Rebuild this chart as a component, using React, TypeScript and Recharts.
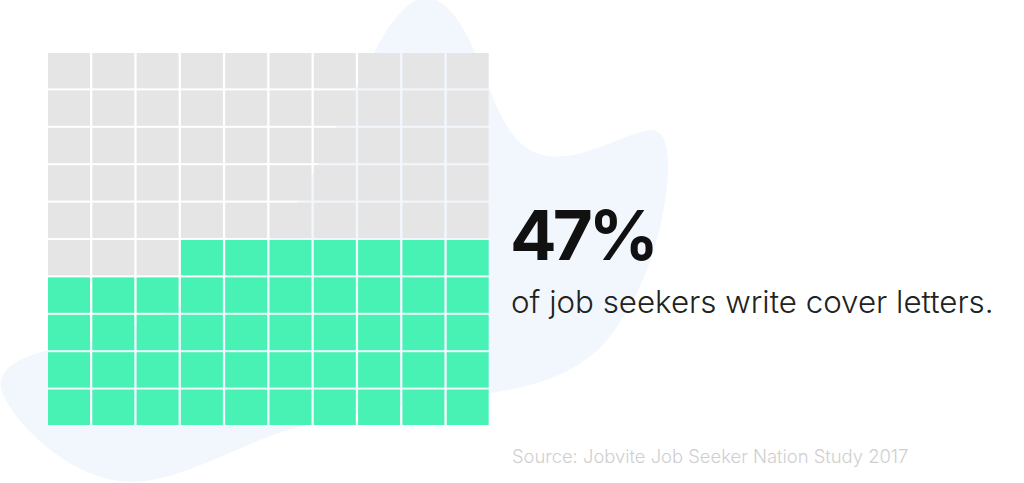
import React from 'react';
import { BarChart, Bar, XAxis, YAxis } from 'recharts';

// ---- data ----
const percentValue = 47;
const headline = '47%';
const caption = 'of job seekers write cover letters.';
const source = 'Source: Jobvite Job Seeker Nation Study 2017';
const columnLabels = ['1', '2', '3', '4', '5', '6', '7', '8', '9', '10'];
const rowKeys = ['r0', 'r1', 'r2', 'r3', 'r4', 'r5', 'r6', 'r7', 'r8', 'r9'];

const GREEN = '#48F1B4';
const GREY = '#E5E5E5';
const BLOB = '#F2F7FE';

// each column is a stack of ten unit cells
const tableData = columnLabels.map((c) => {
  const row: Record<string, any> = { col: c };
  rowKeys.forEach((k) => (row[k] = 1));
  return row;
});

// cells fill from the bottom row up, right to left within a row
const isFilled = (rowIdx: number, colIdx: number) =>
  rowIdx * columnLabels.length + (columnLabels.length - 1 - colIdx) < percentValue;

const makeShape = (rowIdx: number) => (p: any) => (
  <rect
    x={p.x}
    y={p.y + 1}
    width={p.width}
    height={Math.max(0, p.height - 2)}
    fill={isFilled(rowIdx, p.index) ? GREEN : GREY}
  />
);

const blobPath =
  'M 426 -2 C 452 -2, 472 40, 488 85 C 505 130, 520 152, 548 156 ' +
  'C 585 160, 620 135, 650 130 C 670 128, 670 165, 666 195 ' +
  'C 660 240, 645 285, 620 322 C 600 355, 568 382, 490 393 ' +
  'C 420 403, 320 415, 260 440 C 200 465, 160 486, 120 481 ' +
  'C 70 475, 20 430, 3 395 C -8 370, 20 355, 60 348 ' +
  'C 150 330, 250 280, 300 200 C 330 140, 360 80, 378 45 ' +
  'C 395 15, 410 -2, 426 -2 Z';

export default function App() {
  return (
    <div style={{ position: 'absolute', left: 0, top: 0, width: 1024, height: 483, background: '#fff', overflow: 'hidden' }}>
      <svg width={1024} height={483} style={{ position: 'absolute', left: 0, top: 0 }}>
        <path d={blobPath} fill={BLOB} />
      </svg>
      <div style={{ position: 'absolute', left: 0, top: 0 }}>
        <BarChart
          width={1024}
          height={483}
          data={tableData}
          margin={{ top: 52, left: 47, right: 534, bottom: 57 }}
          barCategoryGap={1}
        >
          <XAxis dataKey="col" hide />
          <YAxis hide domain={[0, 10]} />
          {rowKeys.map((k, i) => (
            <Bar key={k} dataKey={k} stackId="w" isAnimationActive={false} shape={makeShape(i)} />
          ))}
        </BarChart>
      </div>
      <svg width={1024} height={483} style={{ position: 'absolute', left: 0, top: 0 }}>
        <text x={510} y={260} fontFamily="Inter, 'DejaVu Sans', sans-serif" fontWeight={700} fontSize={69} letterSpacing={-4} fill="#111">
          {headline}
        </text>
        <text x={511} y={313} fontFamily="Inter, 'DejaVu Sans', sans-serif" fontWeight={300} fontSize={31.3} fill="#222">
          {caption}
        </text>
        <text x={512} y={463} fontFamily="Inter, 'DejaVu Sans', sans-serif" fontWeight={300} fontSize={18.4} fill="#CFCFCF">
          {source}
        </text>
      </svg>
    </div>
  );
}
